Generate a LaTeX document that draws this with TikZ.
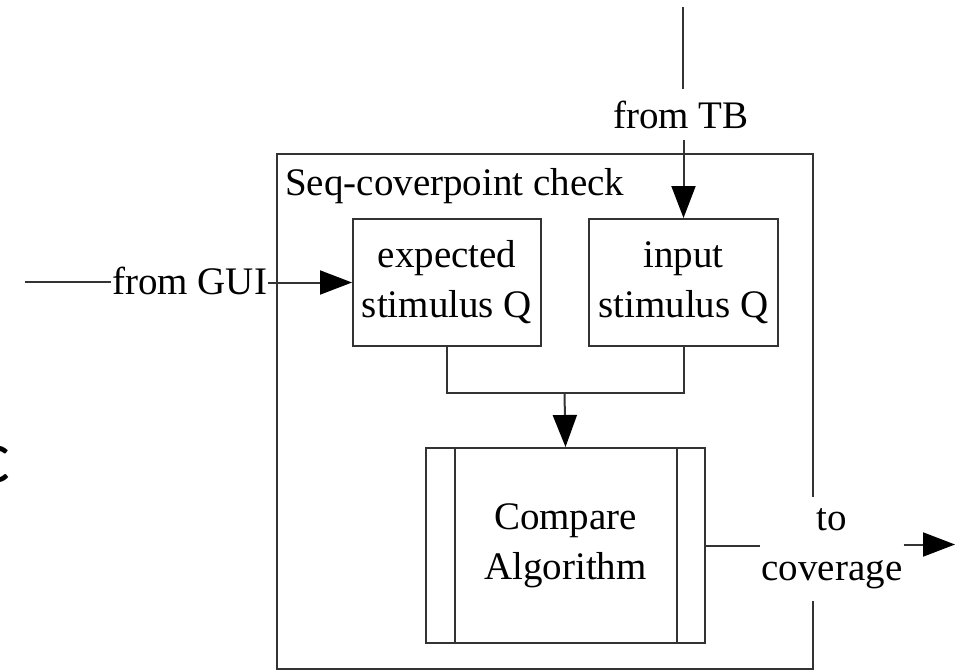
\documentclass[tikz,border=0pt]{standalone}
\usepackage{fontspec}
\setmainfont{Liberation Serif}
\newfontfamily\cfont{Carlito}
\usetikzlibrary{arrows.meta}
\begin{document}
\begin{tikzpicture}[x=1pt,y=-1pt,
  ln/.style={line width=2pt, draw=black!80},
  tri/.style={-{Triangle[length=32pt,width=24pt,color=black]}},
  txt/.style={font=\fontsize{39}{50}\selectfont, align=center, text=black},
  blk/.style={ln, txt, inner sep=0pt, anchor=north west},
]
\useasboundingbox (0,0) rectangle (969,670);

% outer container
\node[ln, inner sep=0pt, anchor=north west, minimum width=536pt, minimum height=515pt] (outer) at (276,153) {};
\node[txt, inner sep=0pt, anchor=base west] (title) at (285,195) {Seq-coverpoint check};

% blocks
\node[blk, minimum width=188pt, minimum height=127pt] (exp) at (352,218) {expected\\stimulus Q};
\node[blk, minimum width=189pt, minimum height=127pt] (inp) at (588,218) {input\\stimulus Q};
\node[blk, minimum width=279pt, minimum height=195pt] (cmp) at (425,447) {Compare\\Algorithm};
\draw[ln] ([xshift=30pt]cmp.north west) -- ([xshift=30pt]cmp.south west);
\draw[ln] ([xshift=-29pt]cmp.north east) -- ([xshift=-29pt]cmp.south east);

% from TB
\node[txt, inner xsep=0pt, inner ysep=11pt, anchor=base] (tb) at (681,128) {from TB};
\coordinate (tbtop) at (682.5,7);
\draw[ln] (tbtop) -- (tbtop |- tb.north);
\draw[ln,tri] (inp.north |- tb.south) -- (inp.north);

% from GUI
\node[txt, inner xsep=1pt, inner ysep=0pt, anchor=base west] (gui) at (111,294) {from GUI};
\coordinate (guistart) at (25,281.5);
\draw[ln] (guistart) -- (gui.west |- guistart);
\draw[ln,tri] (gui.east |- exp.west) -- (exp.west);

% merge
\coordinate (mj) at (564.5,393);
\draw[ln] (exp.south) |- (mj) -| (inp.south);
\draw[ln,tri] (mj) -- (cmp.north);

% to coverage
\node[txt, fill=white, inner xsep=1pt, inner ysep=12pt] (cov) at (832,549) {to\\coverage};
\coordinate (covend) at (955,544.5);
\draw[ln] (cmp.east) -- (cmp.east -| cov.west);
\draw[ln,tri] (cov.east |- covend) -- (covend);

% partial glyph at left edge
\node[anchor=base east, inner sep=0pt, font=\cfont\fontsize{75}{75}\selectfont] (cc) at (10,482) {c};
\end{tikzpicture}
\end{document}
